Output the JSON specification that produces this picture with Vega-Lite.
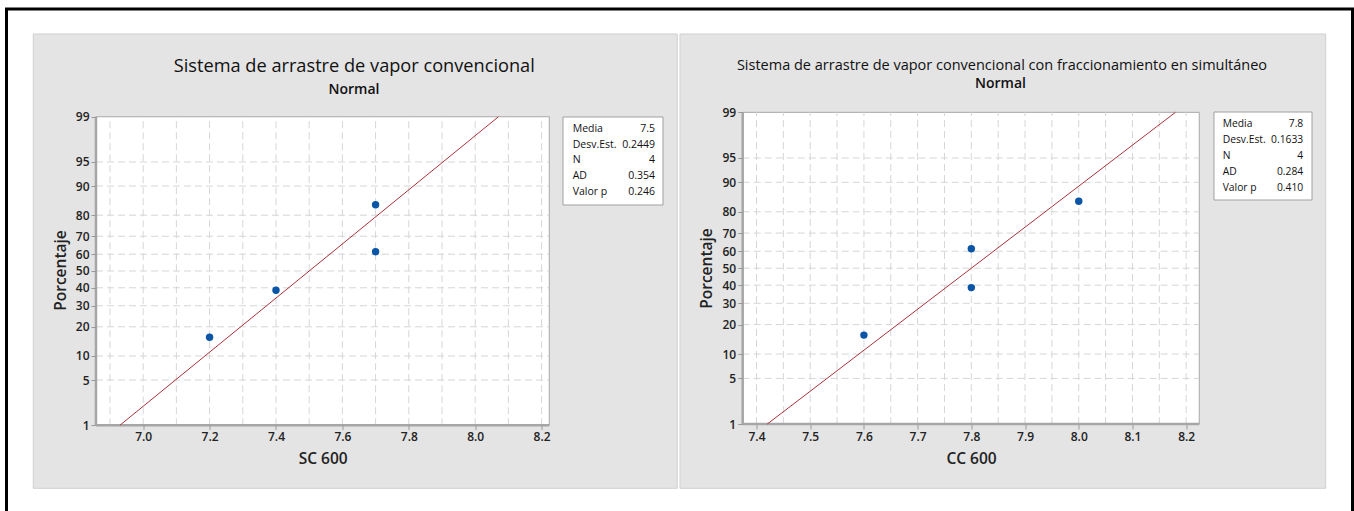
{
  "$schema": "https://vega.github.io/schema/vega-lite/v6.json",
  "width": 1346,
  "height": 505,
  "autosize": {"type": "none"},
  "padding": {"left": 6.5, "top": 9, "right": 1.5, "bottom": -3},
  "background": "white",
  "config": {
    "view": {"stroke": "black", "strokeWidth": 3, "fill": "white"},
    "font": "Open Sans"
  },
  "datasets": {
    "ptsL": [{"v": 7.2, "pct": 15.9}, {"v": 7.4, "pct": 38.6}, {"v": 7.7, "pct": 61.4}, {"v": 7.7, "pct": 84.1}],
    "ptsR": [{"v": 7.6, "pct": 15.9}, {"v": 7.8, "pct": 38.6}, {"v": 7.8, "pct": 61.4}, {"v": 8.0, "pct": 84.1}],
    "fitL": [{"v": 6.93, "pct": 1}, {"v": 8.07, "pct": 99}],
    "fitR": [{"v": 7.42, "pct": 1}, {"v": 8.18, "pct": 99}],
    "gxL": [{"v": 6.9}, {"v": 7.0}, {"v": 7.1}, {"v": 7.2}, {"v": 7.3}, {"v": 7.4}, {"v": 7.5}, {"v": 7.6}, {"v": 7.7}, {"v": 7.8}, {"v": 7.9}, {"v": 8.0}, {"v": 8.1}, {"v": 8.2}],
    "gxR": [{"v": 7.4}, {"v": 7.45}, {"v": 7.5}, {"v": 7.55}, {"v": 7.6}, {"v": 7.65}, {"v": 7.7}, {"v": 7.75}, {"v": 7.8}, {"v": 7.85}, {"v": 7.9}, {"v": 7.95}, {"v": 8.0}, {"v": 8.05}, {"v": 8.1}, {"v": 8.15}, {"v": 8.2}],
    "gy": [{"pct": 5}, {"pct": 10}, {"pct": 20}, {"pct": 30}, {"pct": 40}, {"pct": 50}, {"pct": 60}, {"pct": 70}, {"pct": 80}, {"pct": 90}, {"pct": 95}],
    "one": [{}]
  },
  "layer": [
    {
      "layer": [
        {
          "data": {"name": "one"},
          "mark": {"type": "rect", "fill": "#e4e4e4", "stroke": "#cfcfcf", "strokeWidth": 1},
          "encoding": {
            "x": {"datum": 6.669, "type": "quantitative", "scale": {"domain": [6.5883, 10.6425], "nice": false, "zero": false}},
            "x2": {"datum": 8.6087},
            "y": {"datum": 3.5747, "type": "quantitative", "scale": {"domain": [-3.6652, 3.9517], "nice": false, "zero": false}},
            "y2": {"datum": -3.2775}
          }
        },
        {
          "data": {"name": "one"},
          "mark": {"type": "rect", "fill": "white", "stroke": "#a8a8a8", "strokeWidth": 1},
          "encoding": {
            "x": {"datum": 6.8578, "type": "quantitative"},
            "x2": {"datum": 8.2232},
            "y": {"datum": -2.3263, "type": "quantitative"},
            "y2": {"datum": 2.3263}
          }
        },
        {
          "data": {"name": "gxL"},
          "mark": {"type": "rule", "stroke": "#d6d6d6", "strokeWidth": 1, "strokeDash": [7, 4]},
          "encoding": {
            "x": {"field": "v", "type": "quantitative"},
            "y": {"datum": -2.3263, "type": "quantitative"},
            "y2": {"datum": 2.3263}
          }
        },
        {
          "data": {"name": "gy"},
          "transform": [{"calculate": "quantileNormal(datum.pct / 100)", "as": "z"}],
          "mark": {"type": "rule", "stroke": "#d6d6d6", "strokeWidth": 1, "strokeDash": [7, 4]},
          "encoding": {
            "y": {"field": "z", "type": "quantitative"},
            "x": {"datum": 6.8578, "type": "quantitative"},
            "x2": {"datum": 8.2232}
          }
        },
        {
          "data": {"name": "one"},
          "mark": {"type": "rule", "stroke": "#a6a6a6", "strokeWidth": 2.5},
          "encoding": {
            "x": {"datum": 6.8578, "type": "quantitative"},
            "y": {"datum": -2.3263, "type": "quantitative"},
            "y2": {"datum": 2.3263}
          }
        },
        {
          "data": {"name": "one"},
          "mark": {"type": "rule", "stroke": "#a6a6a6", "strokeWidth": 2.5},
          "encoding": {
            "y": {"datum": -2.3263, "type": "quantitative"},
            "x": {"datum": 6.8578, "type": "quantitative"},
            "x2": {"datum": 8.2232}
          }
        },
        {
          "data": {"name": "fitL"},
          "transform": [{"calculate": "quantileNormal(datum.pct / 100)", "as": "z"}],
          "mark": {"type": "line", "stroke": "#a8323a", "strokeWidth": 1},
          "encoding": {
            "x": {"field": "v", "type": "quantitative"},
            "y": {"field": "z", "type": "quantitative"}
          }
        },
        {
          "data": {"name": "ptsL"},
          "transform": [{"calculate": "quantileNormal(datum.pct / 100)", "as": "z"}],
          "mark": {"type": "circle", "color": "#0a55a6", "size": 55, "opacity": 1},
          "encoding": {
            "x": {
              "field": "v", "type": "quantitative",
              "axis": {
                "orient": "bottom", "offset": -89.5, "zindex": 1,
                "values": [7.0, 7.2, 7.4, 7.6, 7.8, 8.0, 8.2], "format": ".1f",
                "domain": false, "grid": false, "tickSize": 5, "tickColor": "#9a9a9a",
                "labelPadding": 2, "labelFontSize": 12, "labelColor": "#222222", "labelFontWeight": 600,
                "labelOverlap": false, "labelBound": false, "labelFlush": false,
                "title": "SC 600", "titleX": 316.2, "titleY": 34, "titleAlign": "center", "titleBaseline": "middle",
                "titleFontSize": 15.5, "titleFontWeight": 600, "titleColor": "#222222"
              }
            },
            "y": {
              "field": "z", "type": "quantitative",
              "axis": {
                "orient": "left", "offset": -89.5, "zindex": 1,
                "values": [-2.326348, -1.644854, -1.281552, -0.841621, -0.524401, -0.253347, 0, 0.253347, 0.524401, 0.841621, 1.281552, 1.644854, 2.326348],
                "labelExpr": "format(cumulativeNormal(datum.value) * 100, '.0f')",
                "domain": false, "grid": false, "tickSize": 5, "tickColor": "#9a9a9a",
                "labelPadding": 2, "labelFontSize": 12, "labelColor": "#222222", "labelFontWeight": 600,
                "labelOverlap": false, "labelBound": false, "labelFlush": false,
                "title": "Porcentaje", "titleX": -36, "titleY": 261, "titleAngle": -90, "titleAlign": "center", "titleBaseline": "middle",
                "titleFontSize": 15.5, "titleFontWeight": 600, "titleColor": "#222222"
              }
            }
          }
        },
        {
          "data": {"name": "one"},
          "mark": {"type": "rect", "fill": "white", "stroke": "#a0a0a0", "strokeWidth": 1},
          "encoding": {
            "x": {"datum": 8.2645, "type": "quantitative"},
            "x2": {"datum": 8.5657},
            "y": {"datum": 2.3228, "type": "quantitative"},
            "y2": {"datum": 0.9955}
          }
        },
        {
          "data": {"name": "one"},
          "mark": {"type": "text", "align": "left", "baseline": "middle", "fontSize": 10.5, "lineHeight": 15.6, "color": "#111111"},
          "encoding": {
            "x": {"datum": 8.2937, "type": "quantitative"},
            "y": {"datum": 2.1373, "type": "quantitative"},
            "text": {"value": ["Media", "Desv.Est.", "N", "AD", "Valor p"]}
          }
        },
        {
          "data": {"name": "one"},
          "mark": {"type": "text", "align": "right", "baseline": "middle", "fontSize": 10.5, "lineHeight": 15.6, "color": "#111111"},
          "encoding": {
            "x": {"datum": 8.5416, "type": "quantitative"},
            "y": {"datum": 2.1373, "type": "quantitative"},
            "text": {"value": ["7.5", "0.2449", "4", "0.354", "0.246"]}
          }
        },
        {
          "data": {"name": "one"},
          "mark": {"type": "text", "align": "center", "baseline": "alphabetic", "fontSize": 18.2, "color": "#111111"},
          "encoding": {
            "x": {"datum": 7.6358, "type": "quantitative"},
            "y": {"datum": 3.009, "type": "quantitative"},
            "text": {"value": "Sistema de arrastre de vapor convencional"}
          }
        },
        {
          "data": {"name": "one"},
          "mark": {"type": "text", "align": "center", "baseline": "alphabetic", "fontSize": 14, "fontWeight": 600, "color": "#111111"},
          "encoding": {
            "x": {"datum": 7.6349, "type": "quantitative"},
            "y": {"datum": 2.6697, "type": "quantitative"},
            "text": {"value": "Normal"}
          }
        }
      ]
    },
    {
      "layer": [
        {
          "data": {"name": "one"},
          "mark": {"type": "rect", "fill": "#e4e4e4", "stroke": "#cfcfcf", "strokeWidth": 1},
          "encoding": {
            "x": {"datum": 7.2576, "type": "quantitative", "scale": {"domain": [6.0036, 8.5097], "nice": false, "zero": false}},
            "x2": {"datum": 8.4598},
            "y": {"datum": 3.4955, "type": "quantitative", "scale": {"domain": [-3.6687, 3.8687], "nice": false, "zero": false}},
            "y2": {"datum": -3.2851}
          }
        },
        {
          "data": {"name": "one"},
          "mark": {"type": "rect", "fill": "white", "stroke": "#a8a8a8", "strokeWidth": 1},
          "encoding": {
            "x": {"datum": 7.3743, "type": "quantitative"},
            "x2": {"datum": 8.2244},
            "y": {"datum": -2.3263, "type": "quantitative"},
            "y2": {"datum": 2.3263}
          }
        },
        {
          "data": {"name": "gxR"},
          "mark": {"type": "rule", "stroke": "#d6d6d6", "strokeWidth": 1, "strokeDash": [7, 4]},
          "encoding": {
            "x": {"field": "v", "type": "quantitative"},
            "y": {"datum": -2.3263, "type": "quantitative"},
            "y2": {"datum": 2.3263}
          }
        },
        {
          "data": {"name": "gy"},
          "transform": [{"calculate": "quantileNormal(datum.pct / 100)", "as": "z"}],
          "mark": {"type": "rule", "stroke": "#d6d6d6", "strokeWidth": 1, "strokeDash": [7, 4]},
          "encoding": {
            "y": {"field": "z", "type": "quantitative"},
            "x": {"datum": 7.3743, "type": "quantitative"},
            "x2": {"datum": 8.2244}
          }
        },
        {
          "data": {"name": "one"},
          "mark": {"type": "rule", "stroke": "#a6a6a6", "strokeWidth": 2.5},
          "encoding": {
            "x": {"datum": 7.3743, "type": "quantitative"},
            "y": {"datum": -2.3263, "type": "quantitative"},
            "y2": {"datum": 2.3263}
          }
        },
        {
          "data": {"name": "one"},
          "mark": {"type": "rule", "stroke": "#a6a6a6", "strokeWidth": 2.5},
          "encoding": {
            "y": {"datum": -2.3263, "type": "quantitative"},
            "x": {"datum": 7.3743, "type": "quantitative"},
            "x2": {"datum": 8.2244}
          }
        },
        {
          "data": {"name": "fitR"},
          "transform": [{"calculate": "quantileNormal(datum.pct / 100)", "as": "z"}],
          "mark": {"type": "line", "stroke": "#a8323a", "strokeWidth": 1},
          "encoding": {
            "x": {"field": "v", "type": "quantitative"},
            "y": {"field": "z", "type": "quantitative"}
          }
        },
        {
          "data": {"name": "ptsR"},
          "transform": [{"calculate": "quantileNormal(datum.pct / 100)", "as": "z"}],
          "mark": {"type": "circle", "color": "#0a55a6", "size": 55, "opacity": 1},
          "encoding": {
            "x": {
              "field": "v", "type": "quantitative",
              "axis": {
                "orient": "bottom", "offset": -90, "zindex": 1,
                "values": [7.4, 7.5, 7.6, 7.7, 7.8, 7.9, 8.0, 8.1, 8.2], "format": ".1f",
                "domain": false, "grid": false, "tickSize": 5, "tickColor": "#9a9a9a",
                "labelPadding": 2, "labelFontSize": 12, "labelColor": "#222222", "labelFontWeight": 600,
                "labelOverlap": false, "labelBound": false, "labelFlush": false,
                "title": "CC 600", "titleX": 964.5, "titleY": 34, "titleAlign": "center", "titleBaseline": "middle",
                "titleFontSize": 15.5, "titleFontWeight": 600, "titleColor": "#222222"
              }
            },
            "y": {
              "field": "z", "type": "quantitative",
              "axis": {
                "orient": "left", "offset": -736.2, "zindex": 1,
                "values": [-2.326348, -1.644854, -1.281552, -0.841621, -0.524401, -0.253347, 0, 0.253347, 0.524401, 0.841621, 1.281552, 1.644854, 2.326348],
                "labelExpr": "format(cumulativeNormal(datum.value) * 100, '.0f')",
                "domain": false, "grid": false, "tickSize": 5, "tickColor": "#9a9a9a",
                "labelPadding": 2, "labelFontSize": 12, "labelColor": "#222222", "labelFontWeight": 600,
                "labelOverlap": false, "labelBound": false, "labelFlush": false,
                "title": "Porcentaje", "titleX": -36, "titleY": 259, "titleAngle": -90, "titleAlign": "center", "titleBaseline": "middle",
                "titleFontSize": 15.5, "titleFontWeight": 600, "titleColor": "#222222"
              }
            }
          }
        },
        {
          "data": {"name": "one"},
          "mark": {"type": "rect", "fill": "white", "stroke": "#a0a0a0", "strokeWidth": 1},
          "encoding": {
            "x": {"datum": 8.2518, "type": "quantitative"},
            "x2": {"datum": 8.4343},
            "y": {"datum": 2.3313, "type": "quantitative"},
            "y2": {"datum": 1.0179}
          }
        },
        {
          "data": {"name": "one"},
          "mark": {"type": "text", "align": "left", "baseline": "middle", "fontSize": 10.3, "lineHeight": 16, "color": "#111111"},
          "encoding": {
            "x": {"datum": 8.268, "type": "quantitative"},
            "y": {"datum": 2.1478, "type": "quantitative"},
            "text": {"value": ["Media", "Desv.Est.", "N", "AD", "Valor p"]}
          }
        },
        {
          "data": {"name": "one"},
          "mark": {"type": "text", "align": "right", "baseline": "middle", "fontSize": 10.3, "lineHeight": 16, "color": "#111111"},
          "encoding": {
            "x": {"datum": 8.418, "type": "quantitative"},
            "y": {"datum": 2.1478, "type": "quantitative"},
            "text": {"value": ["7.8", "0.1633", "4", "0.284", "0.410"]}
          }
        },
        {
          "data": {"name": "one"},
          "mark": {"type": "text", "align": "center", "baseline": "alphabetic", "fontSize": 14.5, "color": "#111111"},
          "encoding": {
            "x": {"datum": 7.8571, "type": "quantitative"},
            "y": {"datum": 2.9582, "type": "quantitative"},
            "text": {"value": "Sistema de arrastre de vapor convencional con fraccionamiento en simultáneo"}
          }
        },
        {
          "data": {"name": "one"},
          "mark": {"type": "text", "align": "center", "baseline": "alphabetic", "fontSize": 14, "fontWeight": 600, "color": "#111111"},
          "encoding": {
            "x": {"datum": 7.8543, "type": "quantitative"},
            "y": {"datum": 2.697, "type": "quantitative"},
            "text": {"value": "Normal"}
          }
        }
      ]
    }
  ],
  "resolve": {
    "scale": {"x": "independent", "y": "independent"},
    "axis": {"x": "independent", "y": "independent"}
  }
}
